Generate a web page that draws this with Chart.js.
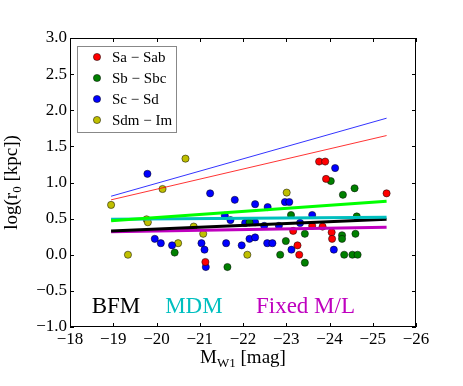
<!DOCTYPE html>
<html>
<head>
  <script src="https://cdn.jsdelivr.net/npm/chart.js"></script>
  <style>body { margin: 0; background: #fff; }</style>
</head>
<body>
<canvas id="r0Chart" width="463" height="386"></canvas>
<script>
const serif = "'Liberation Serif', 'DejaVu Serif', serif";

// morphological groups
const groupLabels = ['Sa \u2212 Sab', 'Sb \u2212 Sbc', 'Sc \u2212 Sd', 'Sdm \u2212 Im'];
const groupColors = ['#ff0000', '#008000', '#0000ff', '#bfbf00'];

const saX = [-21.13, -23.16, -23.26, -23.30, -23.60, -23.76, -23.90, -23.84, -23.92, -24.05, -24.06, -25.32];
const saY = [-0.10, 0.33, 0.13, 0.00, 0.40, 1.29, 1.29, 0.39, 1.05, 0.31, 0.22, 0.85];

const sbX = [-20.42, -21.64, -22.15, -22.86, -22.99, -23.11, -23.43, -23.43, -24.03, -24.31, -24.29, -24.29, -24.34, -24.53, -24.58, -24.60, -24.63, -24.65];
const sbY = [0.03, -0.17, 0.45, 0.00, 0.19, 0.55, 0.29, -0.11, 1.02, 0.83, 0.27, 0.22, 0.00, 0.00, 0.92, 0.29, 0.53, 0.00];

const scX = [-19.79, -19.96, -20.10, -20.36, -21.04, -21.11, -21.14, -21.24, -21.58, -21.71, -21.61, -21.81, -21.97, -22.05, -22.15,
             -22.28, -22.28, -22.28, -22.49, -22.57, -22.56, -22.68, -22.83, -22.97, -23.07, -23.12, -23.32, -23.60, -24.13, -24.10];
const scY = [1.12, 0.22, 0.16, 0.13, 0.16, 0.07, -0.17, 0.85, 0.54, 0.48, 0.16, 0.76, 0.13, 0.44, 0.22,
             0.70, 0.45, 0.24, 0.40, 0.66, 0.16, 0.16, 0.40, 0.73, 0.73, 0.07, 0.44, 0.55, 1.20, 0.07];

const sdX = [-18.95, -19.34, -19.77, -19.80, -20.14, -20.50, -20.67, -20.86, -21.08, -22.10, -23.01];
const sdY = [0.69, 0.00, 0.49, 0.45, 0.91, 0.16, 1.33, 0.39, 0.29, 0.00, 0.86];

// fitted relations, end points
const fitX = [-18.95, -25.32];
const fitBlue = [0.81, 1.89];
const fitRed = [0.76, 1.65];
const fitGreen = [0.47, 0.74];
const fitCyan = [0.49, 0.52];
const fitBlack = [0.33, 0.49];
const fitMagenta = [0.32, 0.38];

const xTicks = [-18, -19, -20, -21, -22, -23, -24, -25, -26];
const yTicks = [-1.0, -0.5, 0.0, 0.5, 1.0, 1.5, 2.0, 2.5, 3.0];

const notes = [
  { text: 'BFM', x: -18.5, y: -0.81, color: '#000000' },
  { text: 'MDM', x: -20.2, y: -0.81, color: '#00bfbf' },
  { text: 'Fixed M/L', x: -22.3, y: -0.81, color: '#bf00bf' }
];

const pts = (xs, ys) => xs.map((v, i) => ({ x: v, y: ys[i] }));

const groups = [[saX, saY], [sbX, sbY], [scX, scY], [sdX, sdY]].map((g, i) => ({
  label: groupLabels[i],
  data: pts(g[0], g[1]),
  backgroundColor: groupColors[i],
  borderColor: '#000',
  borderWidth: 0.5,
  pointRadius: 3.6,
  order: 2,
  isGroup: true
}));

const fit = (ys, color, w) => ({
  type: 'line',
  data: pts(fitX, ys),
  borderColor: color,
  borderWidth: w,
  pointRadius: 0,
  fill: false,
  order: 1
});

const fits = [
  fit(fitBlue, 'rgba(0,0,255,0.8)', 1),
  fit(fitRed, 'rgba(255,0,0,0.8)', 1),
  fit(fitGreen, '#00ff00', 3),
  fit(fitCyan, '#00bfbf', 3),
  fit(fitBlack, '#000000', 3),
  fit(fitMagenta, '#bf00bf', 3)
];

const minus = s => s.replace('-', '\u2212');

const decor = {
  id: 'decor',
  afterDraw(chart) {
    const { ctx, chartArea: a, scales: { x, y } } = chart;
    ctx.save();
    ctx.strokeStyle = '#000';
    ctx.lineWidth = 1;
    ctx.strokeRect(a.left + 0.5, a.top + 0.5, a.right - a.left - 1, a.bottom - a.top - 1);

    // inward ticks on every side
    ctx.beginPath();
    xTicks.forEach(v => {
      const px = Math.round(x.getPixelForValue(v)) + 0.5;
      ctx.moveTo(px, a.bottom); ctx.lineTo(px, a.bottom - 4);
      ctx.moveTo(px, a.top); ctx.lineTo(px, a.top + 4);
    });
    yTicks.forEach(v => {
      const py = Math.round(y.getPixelForValue(v)) + 0.5;
      ctx.moveTo(a.left, py); ctx.lineTo(a.left + 4, py);
      ctx.moveTo(a.right, py); ctx.lineTo(a.right - 4, py);
    });
    ctx.stroke();

    // text labels in the plot
    ctx.font = `23px ${serif}`;
    ctx.textBaseline = 'alphabetic';
    ctx.textAlign = 'left';
    notes.forEach(n => {
      ctx.fillStyle = n.color;
      ctx.fillText(n.text, x.getPixelForValue(n.x), y.getPixelForValue(n.y));
    });

    // legend
    const lx = a.left + 7, ly = a.top + 8;
    ctx.fillStyle = '#fff';
    ctx.fillRect(lx, ly, 99, 86);
    ctx.strokeStyle = '#888';
    ctx.strokeRect(lx + 0.5, ly + 0.5, 99, 86);
    ctx.font = `15px ${serif}`;
    ctx.textBaseline = 'middle';
    chart.data.datasets.filter(d => d.isGroup).forEach((d, i) => {
      const cy = ly + 11 + i * 21;
      ctx.beginPath();
      ctx.arc(lx + 20, cy, 3.6, 0, Math.PI * 2);
      ctx.fillStyle = d.backgroundColor;
      ctx.fill();
      ctx.lineWidth = 0.5;
      ctx.strokeStyle = '#000';
      ctx.stroke();
      ctx.fillStyle = '#000';
      ctx.fillText(d.label, lx + 35, cy + 1);
    });

    // x axis title: M_W1 [mag]
    ctx.fillStyle = '#000';
    ctx.textBaseline = 'alphabetic';
    const big = `19px ${serif}`, small = `13px ${serif}`;
    const parts = [['M', big, 0], ['W1', small, 4], [' [mag]', big, 0]];
    let w = 0;
    parts.forEach(p => { ctx.font = p[1]; w += ctx.measureText(p[0]).width; });
    let cx = (a.left + a.right) / 2 - w / 2;
    parts.forEach(p => {
      ctx.font = p[1];
      ctx.fillText(p[0], cx, 363 + p[2]);
      cx += ctx.measureText(p[0]).width;
    });

    // y axis title: log(r_0 [kpc])
    const yparts = [['log(r', big, 0], ['0', small, 4], [' [kpc])', big, 0]];
    w = 0;
    yparts.forEach(p => { ctx.font = p[1]; w += ctx.measureText(p[0]).width; });
    ctx.translate(17, (a.top + a.bottom) / 2);
    ctx.rotate(-Math.PI / 2);
    cx = -w / 2;
    yparts.forEach(p => {
      ctx.font = p[1];
      ctx.fillText(p[0], cx, p[2]);
      cx += ctx.measureText(p[0]).width;
    });
    ctx.restore();
  }
};

new Chart(document.getElementById('r0Chart').getContext('2d'), {
  type: 'scatter',
  data: { datasets: [...fits, ...groups] },
  options: {
    responsive: false,
    animation: false,
    devicePixelRatio: 1,
    layout: { padding: { left: 0, top: 38, right: 47, bottom: 0 } },
    scales: {
      x: {
        type: 'linear',
        min: -26,
        max: -18,
        reverse: true,
        afterFit: s => { s.height = 59; },
        afterBuildTicks: s => { s.ticks = xTicks.map(v => ({ value: v })); },
        grid: { display: false, drawTicks: false },
        border: { display: false },
        ticks: {
          padding: 2,
          color: '#000',
          font: { family: serif, size: 17 },
          maxRotation: 0,
          autoSkip: false,
          callback: v => minus(String(v))
        }
      },
      y: {
        type: 'linear',
        min: -1,
        max: 3,
        afterFit: s => { s.width = 70; },
        afterBuildTicks: s => { s.ticks = yTicks.map(v => ({ value: v })); },
        grid: { display: false, drawTicks: false },
        border: { display: false },
        ticks: {
          padding: 3,
          color: '#000',
          font: { family: serif, size: 17 },
          autoSkip: false,
          callback: v => minus(v.toFixed(1))
        }
      }
    },
    plugins: {
      legend: { display: false },
      tooltip: { enabled: false }
    }
  },
  plugins: [decor]
});
</script>
</body>
</html>
